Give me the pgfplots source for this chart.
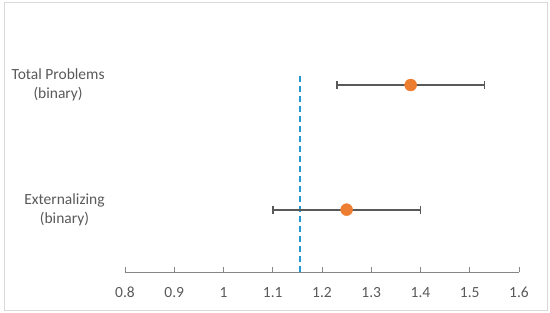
\documentclass[border=0pt]{standalone}
\usepackage{pgfplots}
\pgfplotsset{compat=1.18}
\usepackage{fontspec}
\setmainfont{Carlito}
\definecolor{txtgray}{RGB}{89,89,89}
\definecolor{axgray}{RGB}{134,134,134}
\definecolor{framegray}{RGB}{217,217,217}
\definecolor{dotorange}{RGB}{237,125,49}
\definecolor{refblue}{RGB}{38,150,210}

\begin{document}
\fontsize{15.5}{19.5}\selectfont
\begin{tikzpicture}
\path (-125pt,-41pt) rectangle (425pt,272pt);
\draw[framegray, line width=0.8pt] (-121pt,-38pt) rectangle (422pt,270pt);
\begin{axis}[
    at={(0pt,0pt)}, anchor=origin,
    scale only axis,
    width=394pt, height=249.3pt,
    xmin=0.8, xmax=1.6,
    ymin=0.5, ymax=2.5,
    axis x line=bottom,
    axis y line=none,
    axis line style={axgray, line width=0.9pt, -},
    xtick={0.8,0.9,...,1.6},
    xticklabels={0.8,0.9,1,1.1,1.2,1.3,1.4,1.5,1.6},
    tick align=inside,
    major tick length=5pt,
    tick style={axgray, line width=0.9pt},
    xticklabel style={txtgray, font=\fontsize{15.5}{17.5}\selectfont, yshift=-10pt},
    /pgf/number format/assume math mode=true,
    clip=false,
]
\addplot[refblue, line width=2.4pt, dash pattern=on 6pt off 4pt] coordinates {(1.155,0.5) (1.155,2.1)};
\addplot[draw=none, mark=none,
    error bars/.cd, x dir=both, x explicit,
    error bar style={txtgray, line width=1.8pt},
    error mark options={txtgray, line width=1.6pt, mark size=4pt, rotate=90}]
    coordinates {(1.38,2) +- (0.15,0) (1.25,1) +- (0.15,0)};
\addplot[only marks, mark=*, mark size=6pt, dotorange, mark options={draw=dotorange, fill=dotorange}]
    coordinates {(1.38,2) (1.25,1)};
\node[txtgray, align=center, anchor=east, font=\fontsize{15.5}{19.5}\selectfont] at (axis cs:0.8,2) [xshift=-15pt] {Total Problems\\(binary)};
\node[txtgray, align=center, anchor=east, font=\fontsize{15.5}{19.5}\selectfont] at (axis cs:0.8,1) [xshift=-15pt] {Externalizing\\(binary)};
\end{axis}
\end{tikzpicture}
\end{document}
